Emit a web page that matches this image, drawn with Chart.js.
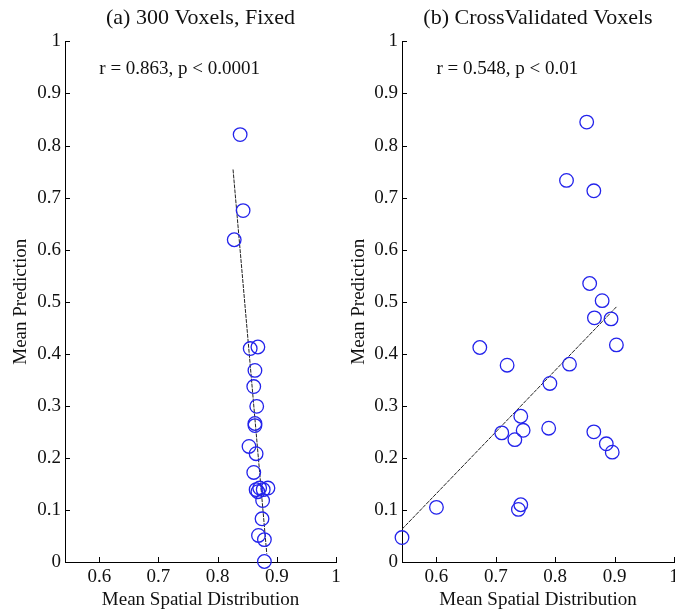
<!DOCTYPE html>
<html>
<head>
<meta charset="utf-8">
<script src="https://cdn.jsdelivr.net/npm/chart.js@4"></script>
<style>
  html, body { margin: 0; padding: 0; background: #fff; }
  #wrap { position: relative; width: 675px; height: 611px; overflow: hidden; }
  canvas { position: absolute; top: 0; }
  #chart-a { left: 0; }
  #chart-b { left: 338px; }
</style>
</head>
<body>
<div id="wrap">
  <canvas id="chart-a" width="345" height="611"></canvas>
  <canvas id="chart-b" width="346" height="611"></canvas>
</div>
<script>
// (a) 300 voxels, fixed
const fixedX = [0.838, 0.843, 0.828, 0.855, 0.868, 0.863, 0.861, 0.866, 0.863, 0.863, 0.853, 0.865,
  0.861, 0.865, 0.871, 0.877, 0.885, 0.868, 0.876, 0.875, 0.869, 0.879, 0.879];
const fixedY = [0.821, 0.675, 0.619, 0.410, 0.413, 0.368, 0.337, 0.299, 0.266, 0.262, 0.222, 0.208,
  0.172, 0.139, 0.142, 0.139, 0.142, 0.135, 0.118, 0.083, 0.051, 0.043, 0.001];
const fixedFitX = [0.826, 0.883];
const fixedFitY = [0.754, 0.016];

// (b) cross validated voxels
const cvX = [0.853, 0.819, 0.865, 0.858, 0.879, 0.866, 0.894, 0.673, 0.903, 0.719, 0.824, 0.791,
  0.742, 0.710, 0.746, 0.732, 0.789, 0.865, 0.886, 0.896, 0.600, 0.742, 0.738, 0.542];
const cvY = [0.845, 0.733, 0.713, 0.535, 0.502, 0.469, 0.467, 0.412, 0.417, 0.378, 0.380, 0.343,
  0.280, 0.248, 0.253, 0.235, 0.257, 0.250, 0.227, 0.211, 0.105, 0.110, 0.101, 0.047];
const cvFitX = [0.542, 0.903];
const cvFitY = [0.063, 0.490];

const xTicks = [0.6, 0.7, 0.8, 0.9, 1];
const yTicks = [0, 0.1, 0.2, 0.3, 0.4, 0.5, 0.6, 0.7, 0.8, 0.9, 1];
const titles = ["(a) 300 Voxels, Fixed", "(b) CrossValidated Voxels"];
const stats = ["r = 0.863, p < 0.0001", "r = 0.548, p < 0.01"];
const xLabel = "Mean Spatial Distribution";
const yLabel = "Mean Prediction";

const serif = "'Liberation Serif', 'Times New Roman', serif";
const ink = "#111";

const toPoints = (xs, ys) => xs.map((x, i) => ({ x: x, y: ys[i] }));

// matlab style ticks pointing into the plot + the r/p note
const matlabBits = {
  id: "matlabBits",
  afterDraw(chart, args, opts) {
    const { ctx } = chart;
    const x = chart.scales.x;
    const y = chart.scales.y;
    ctx.save();
    ctx.strokeStyle = "#000";
    ctx.lineWidth = 1;
    ctx.beginPath();
    x.ticks.forEach((t) => {
      const px = Math.round(x.getPixelForValue(t.value)) + 0.5;
      ctx.moveTo(px, y.bottom);
      ctx.lineTo(px, y.bottom - 5);
    });
    y.ticks.forEach((t) => {
      const py = Math.round(y.getPixelForValue(t.value)) + 0.5;
      ctx.moveTo(x.left, py);
      ctx.lineTo(x.left + 5, py);
    });
    ctx.stroke();
    ctx.fillStyle = ink;
    ctx.font = "19px " + serif;
    ctx.textAlign = "left";
    ctx.textBaseline = "middle";
    ctx.fillText(opts.text, x.getPixelForValue(opts.x), y.getPixelForValue(opts.y));
    ctx.restore();
  },
};

const makeChart = (id, title, stat, pts, fit, yWidth, padRight) => {
  return new Chart(document.getElementById(id), {
    type: "scatter",
    data: {
      datasets: [
        {
          data: pts,
          pointStyle: "circle",
          pointRadius: 6.8,
          pointHoverRadius: 6.8,
          borderWidth: 1.3,
          borderColor: "#2323eb",
          backgroundColor: "rgba(0,0,0,0)",
          clip: false,
          order: 1,
        },
        {
          data: fit,
          showLine: true,
          pointRadius: 0,
          borderColor: "#222",
          borderWidth: 1,
          borderDash: [4, 1],
          order: 2,
        },
      ],
    },
    options: {
      responsive: false,
      animation: false,
      layout: { padding: { left: 0, right: padRight, top: 0, bottom: 0 } },
      scales: {
        x: {
          type: "linear",
          min: 0.542,
          max: 1,
          afterBuildTicks: (s) => { s.ticks = xTicks.map((v) => ({ value: v })); },
          afterFit: (s) => { s.height = 49; s.paddingLeft = 0; s.paddingRight = 0; },
          grid: { display: false, drawTicks: false },
          border: { display: true, color: "#000", width: 1 },
          ticks: { padding: 4, color: ink, font: { family: serif, size: 19 }, callback: (v) => String(v) },
          title: { display: true, text: xLabel, color: ink, font: { family: serif, size: 19 }, padding: { top: 0, bottom: 0 } },
        },
        y: {
          type: "linear",
          min: 0,
          max: 1,
          afterBuildTicks: (s) => { s.ticks = yTicks.map((v) => ({ value: v })); },
          afterFit: (s) => { s.width = yWidth; s.paddingTop = 0; s.paddingBottom = 0; },
          grid: { display: false, drawTicks: false },
          border: { display: true, color: "#000", width: 1 },
          ticks: { padding: 4, color: ink, font: { family: serif, size: 19 }, callback: (v) => String(v) },
          title: { display: true, text: yLabel, color: ink, font: { family: serif, size: 19 }, padding: { top: 10, bottom: 0 } },
        },
      },
      plugins: {
        legend: { display: false },
        tooltip: { enabled: false },
        title: {
          display: true,
          text: title,
          fullSize: false,
          color: ink,
          font: { family: serif, size: 22, weight: "normal" },
          padding: { top: 5, bottom: 10 },
        },
        matlabBits: { text: stat, x: 0.6, y: 0.946 },
      },
    },
    plugins: [matlabBits],
  });
};

makeChart("chart-a", titles[0], stats[0], toPoints(fixedX, fixedY), toPoints(fixedFitX, fixedFitY), 65, 9);
makeChart("chart-b", titles[1], stats[1], toPoints(cvX, cvY), toPoints(cvFitX, cvFitY), 64, 10);
</script>
</body>
</html>
